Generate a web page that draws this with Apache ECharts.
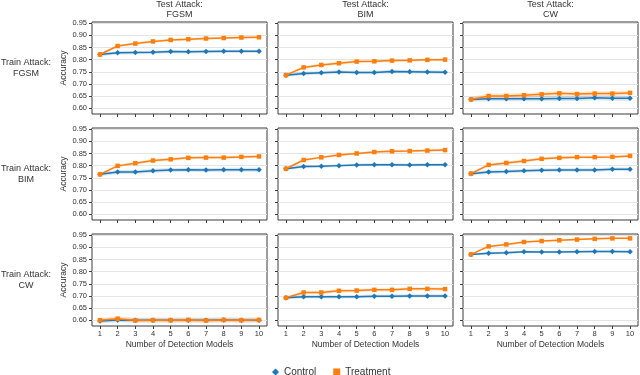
<!DOCTYPE html>
<html><head><meta charset="utf-8">
<script src="https://cdn.jsdelivr.net/npm/echarts@6/dist/echarts.min.js"></script>
<style>html,body{margin:0;padding:0;background:#fff}#c{width:640px;height:375px}</style>
</head><body><div id="c"></div>
<script>
// ---------- data ----------
const models = [1, 2, 3, 4, 5, 6, 7, 8, 9, 10];
const yTicks = [0.60, 0.65, 0.70, 0.75, 0.80, 0.85, 0.90, 0.95];
const trainAttacks = ['FGSM', 'BIM', 'CW'];
const testAttacks = ['FGSM', 'BIM', 'CW'];

// Control (rows: train attack, cols: test attack)
const ctrl_FGSM_FGSM = [0.821, 0.828, 0.829, 0.830, 0.833, 0.832, 0.833, 0.834, 0.834, 0.834];
const ctrl_FGSM_BIM  = [0.736, 0.743, 0.746, 0.749, 0.747, 0.747, 0.751, 0.750, 0.749, 0.748];
const ctrl_FGSM_CW   = [0.636, 0.639, 0.639, 0.639, 0.639, 0.640, 0.640, 0.643, 0.641, 0.641];
const ctrl_BIM_FGSM  = [0.764, 0.774, 0.774, 0.779, 0.782, 0.783, 0.782, 0.783, 0.783, 0.783];
const ctrl_BIM_BIM   = [0.787, 0.796, 0.797, 0.800, 0.803, 0.804, 0.804, 0.803, 0.804, 0.804];
const ctrl_BIM_CW    = [0.767, 0.774, 0.776, 0.779, 0.781, 0.782, 0.782, 0.782, 0.785, 0.785];
const ctrl_CW_FGSM   = [0.597, 0.601, 0.600, 0.600, 0.600, 0.600, 0.600, 0.601, 0.600, 0.600];
const ctrl_CW_BIM    = [0.692, 0.697, 0.696, 0.696, 0.697, 0.699, 0.699, 0.700, 0.700, 0.700];
const ctrl_CW_CW     = [0.871, 0.876, 0.878, 0.882, 0.881, 0.881, 0.882, 0.883, 0.883, 0.882];

// Treatment
const treat_FGSM_FGSM = [0.821, 0.856, 0.866, 0.875, 0.881, 0.884, 0.887, 0.889, 0.891, 0.892];
const treat_FGSM_BIM  = [0.736, 0.768, 0.778, 0.785, 0.792, 0.793, 0.796, 0.797, 0.799, 0.800];
const treat_FGSM_CW   = [0.636, 0.650, 0.650, 0.653, 0.657, 0.661, 0.658, 0.660, 0.660, 0.663];
const treat_BIM_FGSM  = [0.764, 0.799, 0.810, 0.821, 0.826, 0.832, 0.833, 0.833, 0.836, 0.838];
const treat_BIM_BIM   = [0.787, 0.823, 0.834, 0.844, 0.850, 0.856, 0.859, 0.860, 0.862, 0.864];
const treat_BIM_CW    = [0.767, 0.803, 0.811, 0.819, 0.828, 0.832, 0.835, 0.835, 0.836, 0.840];
const treat_CW_FGSM   = [0.600, 0.606, 0.599, 0.600, 0.600, 0.601, 0.599, 0.601, 0.600, 0.601];
const treat_CW_BIM    = [0.692, 0.714, 0.714, 0.721, 0.722, 0.725, 0.725, 0.729, 0.729, 0.728];
const treat_CW_CW     = [0.871, 0.904, 0.912, 0.922, 0.926, 0.929, 0.932, 0.935, 0.937, 0.937];

// confidence half-widths per panel (row-major)
const ciControl   = [0.007, 0.007, 0.010, 0.008, 0.006, 0.007, 0.010, 0.007, 0.005];
const ciTreatment = [0.005, 0.006, 0.010, 0.006, 0.005, 0.006, 0.010, 0.007, 0.004];

const controlSets = [ctrl_FGSM_FGSM, ctrl_FGSM_BIM, ctrl_FGSM_CW, ctrl_BIM_FGSM, ctrl_BIM_BIM, ctrl_BIM_CW, ctrl_CW_FGSM, ctrl_CW_BIM, ctrl_CW_CW];
const treatSets = [treat_FGSM_FGSM, treat_FGSM_BIM, treat_FGSM_CW, treat_BIM_FGSM, treat_BIM_BIM, treat_BIM_CW, treat_CW_FGSM, treat_CW_BIM, treat_CW_CW];

// ---------- layout ----------
const FONT = '"Liberation Sans", Arial, sans-serif';
const TXT = '#333';
const colLeft = [92, 278, 463];
const rowTop = [22, 128, 234];
const W = 175, H = 92;
const BLUE = '#1f77b4', ORANGE = '#ff7f0e';

function bandSeries(k, vals, ci, fill) {
  return {type: 'custom', xAxisIndex: k, yAxisIndex: k, silent: true, z: 1,
    data: models.map((x, i) => [x, vals[i]]),
    renderItem: function (params, api) {
      if (params.dataIndex !== 0) return null;
      const upper = models.map((x, i) => api.coord([x, vals[i] + ci]));
      const lower = models.map((x, i) => api.coord([x, vals[i] - ci])).reverse();
      return {type: 'polygon', shape: {points: upper.concat(lower)}, style: {fill: fill}};
    }
  };
}

const grids = [], xAxes = [], yAxes = [], series = [], graphics = [];
for (let r = 0; r < 3; r++) {
  for (let c = 0; c < 3; c++) {
    const k = r * 3 + c;
    grids.push({left: colLeft[c], top: rowTop[r], width: W, height: H, show: true,
      borderColor: '#3a3a3a', borderWidth: 1, backgroundColor: 'transparent'});
    xAxes.push({type: 'value', gridIndex: k, min: 0.55, max: 10.45,
      axisLine: {show: false},
      axisTick: {show: true, length: 3, customValues: models, lineStyle: {color: '#3a3a3a'}},
      axisLabel: {show: r === 2, customValues: models, fontSize: 7.5, color: TXT, fontFamily: FONT, margin: 4},
      splitLine: {show: false},
      name: r === 2 ? 'Number of Detection Models' : '',
      nameLocation: 'middle', nameGap: 14,
      nameTextStyle: {fontSize: 8.5, color: TXT, fontFamily: FONT}
    });
    yAxes.push({type: 'value', gridIndex: k, min: 0.576, max: 0.955,
      axisLine: {show: false},
      axisTick: {show: true, length: 3, customValues: yTicks, lineStyle: {color: '#3a3a3a'}},
      axisLabel: {show: c === 0, customValues: yTicks, fontSize: 7.5, color: TXT, fontFamily: FONT, margin: 5,
        formatter: v => v.toFixed(2)},
      splitLine: {show: true, lineStyle: {color: '#e4e4e4', width: 1}},
      name: c === 0 ? 'Accuracy' : '',
      nameLocation: 'middle', nameGap: 24, nameRotate: 90,
      nameTextStyle: {fontSize: 8.5, color: TXT, fontFamily: FONT}
    });
    const sets = [
      {name: 'Control', vals: controlSets[k], ci: ciControl[k], color: BLUE, band: 'rgba(31,119,180,0.18)', sym: 'diamond', size: 5.5},
      {name: 'Treatment', vals: treatSets[k], ci: ciTreatment[k], color: ORANGE, band: 'rgba(255,127,14,0.18)', sym: 'rect', size: 4.5}
    ];
    sets.forEach((s) => series.push(bandSeries(k, s.vals, s.ci, s.band)));
    sets.forEach((s) => {
      series.push({type: 'line', name: s.name, xAxisIndex: k, yAxisIndex: k,
        data: models.map((x, i) => [x, s.vals[i]]),
        symbol: s.sym, symbolSize: s.size, showSymbol: true,
        itemStyle: {color: s.color}, lineStyle: {color: s.color, width: 1.5}, z: 3});
    });
  }
}
// column titles
testAttacks.forEach((t, c) => {
  graphics.push({type: 'text', x: colLeft[c] + W / 2, y: 10, style: {text: 'Test Attack:\n' + t,
    font: '9px ' + FONT, fill: TXT, textAlign: 'center', textVerticalAlign: 'middle', lineHeight: 10}});
});
// row labels
trainAttacks.forEach((t, r) => {
  graphics.push({type: 'text', x: 26, y: rowTop[r] + H / 2, style: {text: 'Train Attack:\n' + t,
    font: '9px ' + FONT, fill: TXT, textAlign: 'center', textVerticalAlign: 'middle', lineHeight: 10.5}});
});

const chart = echarts.init(document.getElementById('c'));
chart.setOption({
  animation: false,
  textStyle: {fontFamily: FONT},
  grid: grids, xAxis: xAxes, yAxis: yAxes, series: series,
  legend: {data: [{name: 'Control', icon: 'diamond'}, {name: 'Treatment', icon: 'rect'}],
    left: 267, top: 362, itemWidth: 7, itemHeight: 7, itemGap: 17,
    textStyle: {fontSize: 10, color: TXT, fontFamily: FONT}, selectedMode: false},
  graphic: graphics
});
</script></body></html>
